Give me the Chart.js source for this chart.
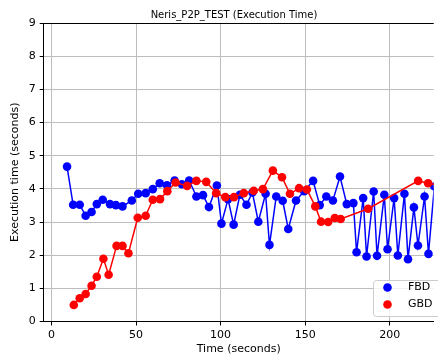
<!DOCTYPE html>
<html>
<head>
<script src="https://cdn.jsdelivr.net/npm/chart.js@4.4.1/dist/chart.umd.min.js"></script>
<style>
  body { margin: 0; background: #fff; }
</style>
<script>
// values
var fbdTime = [9.2, 12.8, 16.7, 20.2, 23.7, 26.8, 30.3, 34.6, 38.1, 42.0, 47.5, 51.3, 55.7, 59.9, 64.0, 68.3,
  72.8, 77.1, 81.4, 85.7, 89.6, 93.1, 97.8, 100.5, 104.4, 107.7, 111.4, 115.3, 118.8, 122.3, 126.6, 128.9,
  132.9, 136.7, 140.0, 144.6, 149.4, 154.7, 158.6, 162.5, 166.4, 170.6, 174.6, 178.5, 180.4, 184.3, 186.3,
  190.5, 192.5, 196.8, 198.7, 202.6, 204.8, 208.7, 210.8, 214.3, 216.7, 220.6, 222.9, 226.4];
var fbdExec = [4.67, 3.52, 3.52, 3.19, 3.30, 3.54, 3.67, 3.54, 3.51, 3.47, 3.65, 3.85, 3.87, 3.99, 4.17, 4.11,
  4.25, 4.14, 4.25, 3.77, 3.81, 3.45, 4.10, 2.95, 3.69, 2.92, 3.82, 3.52, 3.89, 3.01, 3.85, 2.31,
  3.77, 3.64, 2.79, 3.65, 3.93, 4.24, 3.51, 3.77, 3.65, 4.37, 3.54, 3.57, 2.09, 3.72, 1.96,
  3.92, 1.98, 3.82, 2.18, 3.72, 1.99, 3.85, 1.88, 3.44, 2.29, 3.77, 2.04, 4.07];

var gbdTime = [13.2, 16.7, 20.2, 23.7, 26.8, 30.7, 33.8, 38.5, 42.0, 45.5, 51.0, 55.7, 59.9, 64.2, 68.5, 73.4,
  80.2, 85.7, 91.5, 97.4, 102.8, 107.9, 113.7, 119.6, 125.0, 130.9, 136.3, 141.0, 146.4, 151.0, 156.0,
  159.4, 163.6, 167.5, 171.0, 187.2, 216.8, 222.7, 228.5];
var gbdExec = [0.50, 0.70, 0.83, 1.08, 1.35, 1.89, 1.41, 2.28, 2.28, 2.06, 3.13, 3.19, 3.67, 3.69, 3.93, 4.19,
  4.09, 4.24, 4.21, 3.87, 3.75, 3.75, 3.87, 3.94, 3.99, 4.55, 4.35, 3.85, 4.02, 3.98, 3.47,
  3.01, 3.00, 3.12, 3.09, 3.40, 4.24, 4.17, 4.12];

var xTicks = [0, 50, 100, 150, 200];
var yTicks = [0, 1, 2, 3, 4, 5, 6, 7, 8, 9];

function toPoints(xs, ys) {
  return xs.map((x, i) => ({x: x, y: ys[i]}));
}

// top spine, title and the legend box inside the plot
var extras = {
  id: 'extras',
  afterDraw(chart) {
    let ctx = chart.ctx, a = chart.chartArea;
    ctx.save();
    ctx.strokeStyle = '#000';
    ctx.lineWidth = 1;
    ctx.beginPath();
    ctx.moveTo(a.left, a.top + 0.5);
    ctx.lineTo(a.right, a.top + 0.5);
    ctx.stroke();

    ctx.fillStyle = '#000';
    ctx.font = '10px "DejaVu Sans"';
    ctx.textAlign = 'center';
    ctx.textBaseline = 'middle';
    ctx.fillText('Neris_P2P_TEST (Execution Time)', 234, 15);

    // legend
    let bx = 373, by = 280, bw = 70, bh = 36, r = 3;
    ctx.fillStyle = 'rgba(255,255,255,0.8)';
    ctx.strokeStyle = '#cccccc';
    ctx.beginPath();
    ctx.roundRect(bx + 0.5, by + 0.5, bw, bh, r);
    ctx.fill();
    ctx.stroke();
    ctx.font = '11px "DejaVu Sans"';
    ctx.textAlign = 'left';
    chart.data.datasets.forEach((ds, i) => {
      let y = 287.5 + i * 17;
      ctx.fillStyle = ds.backgroundColor;
      ctx.beginPath();
      ctx.arc(387.5, y, 4.3, 0, Math.PI * 2);
      ctx.fill();
      ctx.fillStyle = '#000';
      ctx.fillText(ds.label, 408, y);
    });
    ctx.restore();
  }
};

function makeChart() {
  Chart.defaults.font.family = '"DejaVu Sans"';
  Chart.defaults.font.size = 11;
  Chart.defaults.color = '#000';
  var ctx = document.getElementById('canvas').getContext('2d');
  new Chart(ctx, {
    type: 'line',
    data: {
      datasets: [
        { label: 'FBD', data: toPoints(fbdTime, fbdExec), borderColor: '#0000ff', backgroundColor: '#0000ff',
          borderWidth: 1.5, pointRadius: 4.3, pointBorderWidth: 0, order: 1 },
        { label: 'GBD', data: toPoints(gbdTime, gbdExec), borderColor: '#ff0000', backgroundColor: '#ff0000',
          borderWidth: 1.5, pointRadius: 4.3, pointBorderWidth: 0, order: 0 }
      ]
    },
    options: {
      responsive: false,
      animation: false,
      layout: { padding: { left: 5, top: 23, right: 0, bottom: 0 } },
      plugins: { legend: { display: false }, tooltip: { enabled: false } },
      scales: {
        x: {
          type: 'linear', min: -4.6, max: 226,
          afterBuildTicks: s => { s.ticks = xTicks.map(v => ({value: v})); },
          afterFit: s => { s.height = 36.5; },
          ticks: { padding: 3, maxRotation: 0 },
          grid: { color: '#bdbdbd', lineWidth: 1, tickColor: '#000', tickLength: 4 },
          border: { color: '#000', width: 1 },
          title: { display: true, text: 'Time (seconds)', padding: { top: 0, bottom: 2 } }
        },
        y: {
          min: 0, max: 9,
          afterBuildTicks: s => { s.ticks = yTicks.map(v => ({value: v})); },
          afterFit: s => { s.width = 38.7; },
          ticks: { padding: 4 },
          grid: { color: '#bdbdbd', lineWidth: 1, tickColor: '#000', tickLength: 4 },
          border: { color: '#000', width: 1 },
          title: { display: true, text: 'Execution time (seconds)', padding: { top: 4, bottom: 0 } }
        }
      }
    },
    plugins: [extras]
  });
}
window.addEventListener('load', makeChart);
</script>
</head>
<body>
  <canvas id="canvas" width="438" height="358"></canvas>
</body>
</html>
